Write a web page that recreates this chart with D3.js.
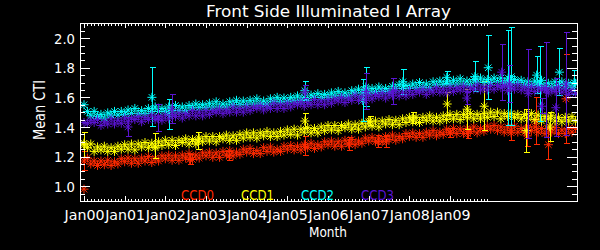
<!DOCTYPE html>
<html><head><meta charset="utf-8">
<script src="https://cdn.jsdelivr.net/npm/d3@7"></script>
<style>body{margin:0;background:#000}svg{display:block;background:#000}</style>
</head><body><svg id="c" width="600" height="250"></svg>
<script>
// ---------------- DATA ----------------
const seriesNames = ["CCD0", "CCD1", "CCD2", "CCD3"];
const seriesColors = ["#ff2a00", "#ffff00", "#00ffff", "#5a14d2"];
const xTickLabels = ["Jan00","Jan01","Jan02","Jan03","Jan04","Jan05","Jan06","Jan07","Jan08","Jan09"];
const xTickYears = [2000,2001,2002,2003,2004,2005,2006,2007,2008,2009];
const yTickValues = [1.0, 1.2, 1.4, 1.6, 1.8, 2.0];
const firstYear = 2000; // monthly samples starting Jan 2000

const ccd0 = [0.98,
1.19,1.15,1.17,1.14,1.17,1.145,1.175,1.14,1.165,1.15,1.185,1.165,
1.19,1.155,1.185,1.155,1.19,1.17,1.2,1.16,1.19,1.17,1.205,1.185,
1.21,1.175,1.205,1.175,1.21,1.19,1.22,1.18,1.21,1.19,1.225,1.205,
1.23,1.195,1.225,1.195,1.235,1.21,1.24,1.205,1.23,1.215,1.25,1.23,
1.255,1.22,1.24,1.22,1.26,1.235,1.265,1.23,1.25,1.235,1.27,1.25,
1.275,1.245,1.27,1.245,1.28,1.26,1.29,1.255,1.28,1.265,1.3,1.28,
1.305,1.27,1.3,1.27,1.31,1.285,1.315,1.28,1.305,1.29,1.325,1.305,
1.33,1.3,1.325,1.3,1.335,1.315,1.345,1.31,1.335,1.32,1.355,1.335,
1.36,1.33,1.355,1.33,1.365,1.345,1.375,1.34,1.365,1.35,1.385,1.365,
1.39,1.355,1.385,1.355,1.39,1.37,1.4,1.36,1.39,1.37,1.405,1.385,
1.41,1.375,1.4,1.365,1.4,1.375,1.405,1.365,1.39,1.365,1.4,1.375,
1.4,1.365,1.39,1.355,1.39,1.365,1.395,1.355,1.38,1.355,1.39,1.365,
1.39];

const ccd1 = [1.29,
1.26,1.285,1.235,1.265,1.245,1.27,1.235,1.26,1.235,1.27,1.25,1.28,
1.25,1.285,1.245,1.285,1.265,1.295,1.26,1.29,1.26,1.3,1.275,1.31,
1.28,1.31,1.275,1.31,1.295,1.32,1.285,1.315,1.285,1.325,1.3,1.335,
1.305,1.335,1.3,1.335,1.32,1.345,1.31,1.34,1.31,1.35,1.325,1.36,
1.33,1.36,1.325,1.36,1.34,1.37,1.335,1.36,1.335,1.37,1.345,1.38,
1.35,1.385,1.345,1.385,1.365,1.395,1.36,1.39,1.36,1.4,1.375,1.41,
1.38,1.41,1.375,1.41,1.395,1.42,1.385,1.415,1.385,1.425,1.4,1.435,
1.405,1.44,1.4,1.44,1.42,1.45,1.415,1.445,1.415,1.455,1.43,1.465,
1.435,1.465,1.43,1.465,1.445,1.475,1.44,1.465,1.44,1.475,1.45,1.485,
1.455,1.485,1.45,1.485,1.465,1.49,1.455,1.485,1.455,1.49,1.465,1.5,
1.47,1.5,1.455,1.49,1.47,1.49,1.465,1.485,1.455,1.485,1.46,1.49,
1.45,1.48,1.44,1.47,1.455,1.475,1.44,1.465,1.435,1.465,1.44,1.47,
1.44];

const ccd2 = [1.55,
1.505,1.475,1.505,1.47,1.485,1.46,1.495,1.48,1.505,1.48,1.505,1.485,
1.515,1.49,1.525,1.49,1.51,1.49,1.525,1.505,1.535,1.505,1.525,1.505,
1.535,1.51,1.545,1.51,1.535,1.51,1.545,1.53,1.555,1.53,1.55,1.53,
1.56,1.535,1.57,1.535,1.555,1.535,1.57,1.55,1.58,1.55,1.575,1.55,
1.58,1.555,1.59,1.555,1.575,1.555,1.59,1.57,1.6,1.57,1.595,1.57,
1.6,1.58,1.61,1.58,1.6,1.58,1.615,1.6,1.625,1.6,1.62,1.6,
1.63,1.61,1.64,1.61,1.63,1.61,1.645,1.63,1.655,1.63,1.65,1.63,
1.66,1.64,1.67,1.64,1.66,1.64,1.675,1.66,1.685,1.66,1.68,1.66,
1.69,1.665,1.7,1.665,1.69,1.665,1.705,1.685,1.71,1.685,1.705,1.685,
1.715,1.69,1.725,1.69,1.71,1.685,1.72,1.705,1.73,1.7,1.72,1.7,
1.73,1.705,1.73,1.695,1.71,1.69,1.72,1.7,1.715,1.685,1.705,1.68,
1.71,1.685,1.715,1.675,1.695,1.67,1.705,1.68,1.705,1.675,1.695,1.665,
1.695];

const ccd3 = [1.43,
1.425,1.445,1.43,1.45,1.41,1.435,1.42,1.455,1.42,1.445,1.425,1.46,
1.435,1.46,1.45,1.47,1.435,1.465,1.45,1.48,1.45,1.47,1.445,1.48,
1.455,1.485,1.47,1.495,1.46,1.49,1.475,1.51,1.475,1.5,1.475,1.51,
1.485,1.51,1.5,1.52,1.49,1.515,1.5,1.535,1.5,1.525,1.5,1.535,
1.51,1.535,1.525,1.545,1.515,1.54,1.525,1.56,1.525,1.55,1.525,1.56,
1.535,1.56,1.55,1.57,1.54,1.565,1.55,1.585,1.55,1.575,1.55,1.585,
1.56,1.59,1.575,1.6,1.565,1.595,1.58,1.615,1.58,1.605,1.58,1.615,
1.59,1.62,1.605,1.63,1.595,1.625,1.61,1.645,1.61,1.635,1.61,1.645,
1.62,1.645,1.635,1.655,1.62,1.65,1.635,1.665,1.635,1.655,1.63,1.665,
1.64,1.665,1.65,1.675,1.64,1.665,1.655,1.685,1.65,1.67,1.65,1.68,
1.655,1.68,1.665,1.68,1.645,1.67,1.655,1.685,1.65,1.67,1.645,1.675,
1.64,1.665,1.65,1.665,1.63,1.655,1.64,1.67,1.635,1.655,1.62,1.65,
1.625];

// individual measurements with visible error bars: [decimal year, mean CTI, error]
const ccd0Err = [[2000.0,1.17,0.065],[2002.6,1.18,0.035],[2003.57,1.205,0.03],[2005.43,1.27,0.063],
  [2006.52,1.285,0.045],[2007.23,1.30,0.04],[2007.43,1.30,0.04],[2009.0,1.36,0.03],[2009.43,1.355,0.03],
  [2010.5,1.36,0.05],[2010.9,1.34,0.07],[2011.11,1.44,0.16],[2011.42,1.28,0.10],[2011.85,1.59,0.30]];
const ccd1Err = [[2000.0,1.28,0.085],[2001.75,1.27,0.085],[2002.8,1.305,0.055],[2005.43,1.44,0.05],
  [2007.03,1.44,0.03],[2008.08,1.46,0.04],[2008.93,1.555,0.075],[2009.42,1.52,0.135],[2009.84,1.54,0.165],
  [2010.87,1.375,0.145],[2011.45,1.40,0.10]];
const ccd2Err = [[2001.67,1.60,0.20],[2002.08,1.485,0.10],[2005.43,1.645,0.065],[2006.85,1.58,0.14],
  [2006.93,1.67,0.13],[2007.84,1.705,0.085],[2008.92,1.735,0.04],[2009.61,1.74,0.10],[2009.94,1.80,0.215],
  [2010.43,1.73,0.32],[2010.51,1.74,0.33],[2011.13,1.75,0.125],[2011.2,1.69,0.255],[2011.69,1.77,0.16],
  [2012.05,1.70,0.08]];
const ccd3Err = [[2001.08,1.40,0.065],[2001.82,1.46,0.09],[2002.16,1.52,0.10],[2005.43,1.635,0.045],
  [2006.93,1.64,0.12],[2007.59,1.64,0.085],[2009.41,1.595,0.04],[2010.27,1.77,0.19],[2010.45,1.69,0.125],
  [2010.92,1.625,0.30],[2011.25,1.54,0.05],[2011.36,1.65,0.32],[2011.6,1.53,0.195],[2011.85,1.69,0.35]];

// ---------------- CHART ----------------
const svg = d3.select("#c");
const L = 80, R = 577, T = 23.3, B = 201;
const x = d3.scaleLinear().domain([1999.9016, 2012.122]).range([L, R]);
const y = d3.scaleLinear().domain([0.9, 2.1]).range([B, T]);
const FONT = "DejaVu Sans, Noto Sans, sans-serif";

const series = [ccd0, ccd1, ccd2, ccd3];
const errs = [ccd0Err, ccd1Err, ccd2Err, ccd3Err];

svg.append("defs").append("clipPath").attr("id","plotclip")
  .append("rect").attr("x", L).attr("y", T).attr("width", R - L).attr("height", B - T);

function star(cx, cy, r) {
  const d = r * 0.72;
  return `M${cx - r},${cy}H${cx + r}M${cx},${cy - r}V${cy + r}` +
         `M${cx - d},${cy - d}L${cx + d},${cy + d}M${cx - d},${cy + d}L${cx + d},${cy - d}`;
}
const SR = 4.5;

const plot = svg.append("g").attr("clip-path", "url(#plotclip)");
series.forEach((vals, si) => {
  const g = plot.append("g").attr("stroke", seriesColors[si]).attr("fill", "none").attr("stroke-width", 1);
  const pts = vals.map((v, i) => [firstYear + i / 12, v]);
  g.selectAll("path.s").data(pts).join("path").attr("class", "s")
    .attr("d", d => star(x(d[0]), y(d[1]), SR));
  const eb = g.selectAll("g.e").data(errs[si]).join("g").attr("class", "e");
  eb.append("path").attr("shape-rendering", "crispEdges").attr("d", d => {
    const cx = Math.round(x(d[0])) + 0.5, y1 = y(d[1] + d[2]), y2 = y(d[1] - d[2]);
    return `M${cx},${y1}V${y2}M${cx - 3},${y1}H${cx + 3}M${cx - 3},${y2}H${cx + 3}`;
  });
  eb.append("path").attr("d", d => star(x(d[0]), y(d[1]), SR));
});

// axes
const axColor = "#ffffff";
function styleAxis(g) {
  g.select(".domain").remove();
  g.selectAll("line").attr("stroke", axColor).attr("shape-rendering", "crispEdges");
  g.selectAll("text").attr("fill", axColor).attr("font-family", FONT).attr("font-size", 14.5);
}
const minorMonths = d3.range(0, 120).map(i => 2000 + i / 12).filter((v, i) => i % 12 !== 0);
const minorY = d3.range(19, 42).map(i => i * 0.05).filter(v => Math.abs(v * 5 - Math.round(v * 5)) > 1e-6);

// bottom
svg.append("g").attr("transform", `translate(0,${B})`)
  .call(d3.axisBottom(x).tickValues(xTickYears).tickFormat((d, i) => xTickLabels[i]).tickSizeInner(-5).tickSizeOuter(0).tickPadding(8.5))
  .call(styleAxis)
  .call(g => g.selectAll("text").attr("textLength", 40).attr("lengthAdjust", "spacingAndGlyphs"));
svg.append("g").attr("transform", `translate(0,${B})`)
  .call(d3.axisBottom(x).tickValues(minorMonths).tickFormat("").tickSizeInner(-2.5).tickSizeOuter(0)).call(styleAxis);
// top
svg.append("g").attr("transform", `translate(0,${T})`)
  .call(d3.axisTop(x).tickValues(xTickYears).tickFormat("").tickSizeInner(-5).tickSizeOuter(0)).call(styleAxis);
svg.append("g").attr("transform", `translate(0,${T})`)
  .call(d3.axisTop(x).tickValues(minorMonths).tickFormat("").tickSizeInner(-2.5).tickSizeOuter(0)).call(styleAxis);
// left
svg.append("g").attr("transform", `translate(${L},0)`)
  .call(d3.axisLeft(y).tickValues(yTickValues).tickFormat(d3.format(".1f")).tickSizeInner(-10).tickSizeOuter(0).tickPadding(5))
  .call(styleAxis)
  .call(g => g.selectAll("text").attr("dy", "0.36em").attr("textLength", 21).attr("lengthAdjust", "spacingAndGlyphs"));
svg.append("g").attr("transform", `translate(${L},0)`)
  .call(d3.axisLeft(y).tickValues(minorY).tickFormat("").tickSizeInner(-5).tickSizeOuter(0)).call(styleAxis);
// right
svg.append("g").attr("transform", `translate(${R},0)`)
  .call(d3.axisRight(y).tickValues(yTickValues).tickFormat("").tickSizeInner(-10).tickSizeOuter(0)).call(styleAxis);
svg.append("g").attr("transform", `translate(${R},0)`)
  .call(d3.axisRight(y).tickValues(minorY).tickFormat("").tickSizeInner(-5).tickSizeOuter(0)).call(styleAxis);

// frame
svg.append("rect").attr("x", L + 0.5).attr("y", Math.round(T) + 0.5)
  .attr("width", R - L).attr("height", Math.round(B) - Math.round(T))
  .attr("fill", "none").attr("stroke", axColor).attr("stroke-width", 1).attr("shape-rendering", "crispEdges");

// title and labels
svg.append("text").attr("x", (L + R) / 2).attr("y", 17).attr("text-anchor", "middle")
  .attr("fill", axColor).attr("font-family", FONT).attr("font-size", 16.5)
  .attr("textLength", 245).attr("lengthAdjust", "spacingAndGlyphs")
  .text("Front Side Illuminated I Array");
svg.append("text").attr("x", 328).attr("y", 237).attr("text-anchor", "middle")
  .attr("fill", axColor).attr("font-family", FONT).attr("font-size", 14)
  .attr("textLength", 38).attr("lengthAdjust", "spacingAndGlyphs").text("Month");
svg.append("text").attr("transform", "translate(45,110) rotate(-90)").attr("text-anchor", "middle")
  .attr("fill", axColor).attr("font-family", FONT).attr("font-size", 15)
  .attr("textLength", 60).attr("lengthAdjust", "spacingAndGlyphs").text("Mean CTI");

// legend
seriesNames.forEach((n, i) => {
  svg.append("text").attr("x", 181 + i * 60).attr("y", 200)
    .attr("fill", seriesColors[i]).attr("font-family", FONT).attr("font-size", 14)
    .attr("textLength", 33).attr("lengthAdjust", "spacingAndGlyphs").text(n);
});
</script>
</body></html>
